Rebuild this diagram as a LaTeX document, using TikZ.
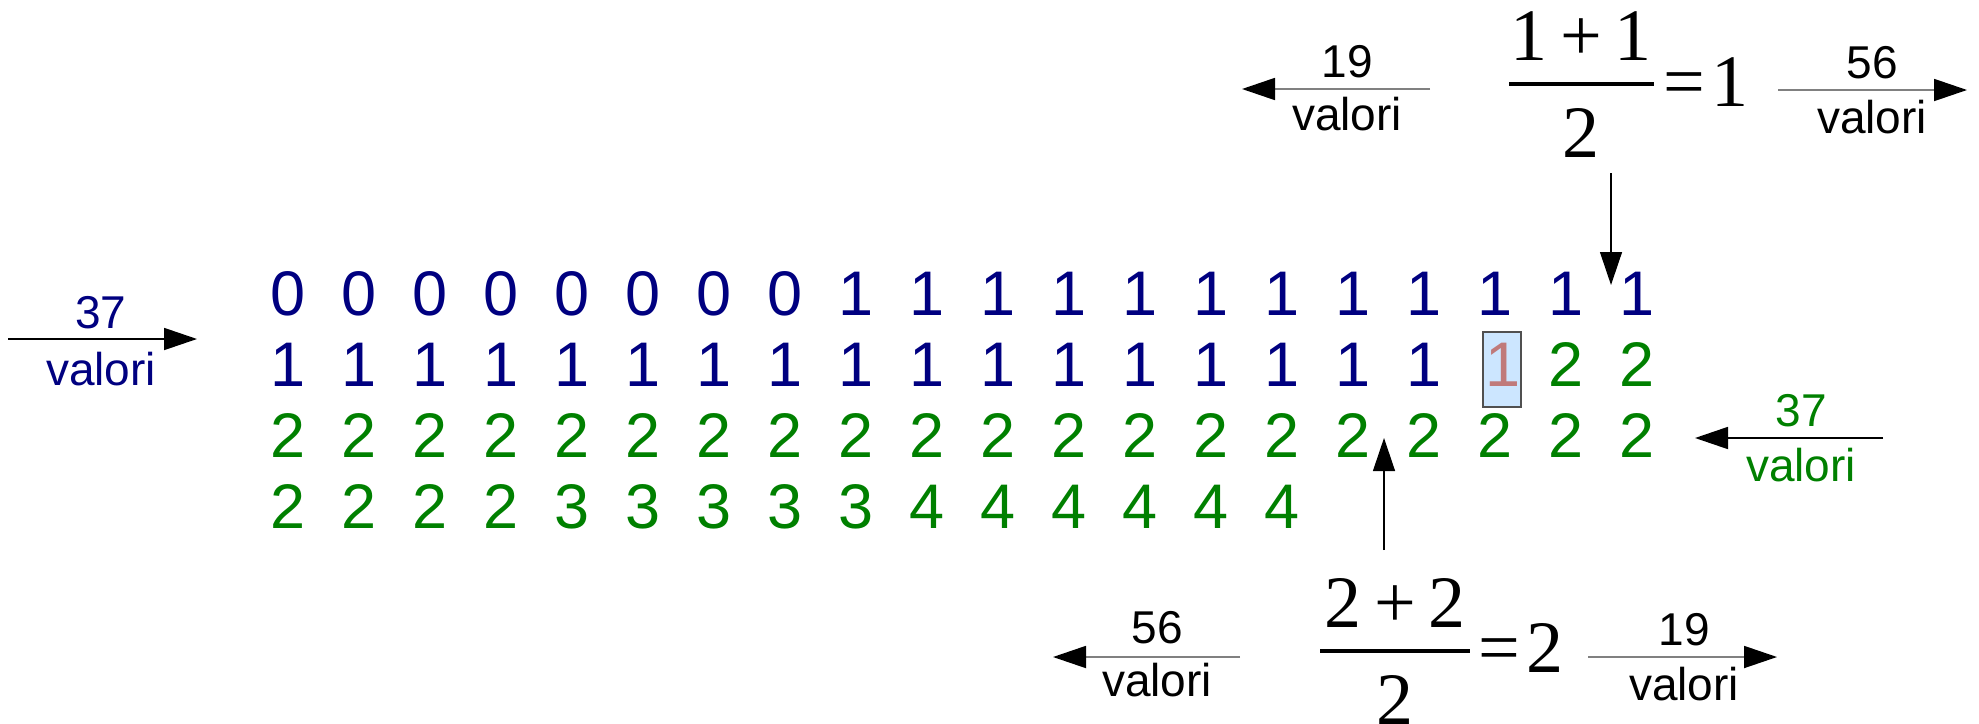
\documentclass[tikz,border=0pt]{standalone}
\usepackage{fontspec}
\setmainfont{Liberation Sans}
\newfontfamily\seriffont{Liberation Serif}
\usetikzlibrary{arrows.meta}
\definecolor{navy}{RGB}{0,0,128}
\definecolor{dgreen}{RGB}{0,128,0}
\definecolor{rosy}{RGB}{192,122,122}
\definecolor{hlfill}{RGB}{204,230,255}
\definecolor{hlborder}{RGB}{80,80,80}
\definecolor{lgray}{RGB}{128,128,128}
\begin{document}
\begin{tikzpicture}[x=0.5pt,y=-0.5pt,
  cell/.style={anchor=base, inner sep=0pt, font=\fontsize{31.5}{31.5}\selectfont},
  lbl/.style={anchor=base, inner sep=0pt, font=\fontsize{23}{23}\selectfont},
  frm/.style={anchor=base, inner sep=0pt, font=\fontsize{37}{37}\seriffont},
  frmeq/.style={frm, anchor=base west},
  fbar/.style={line width=2pt},
  arr/.style={line width=0.9pt, -{Triangle[length=16.5pt,width=11pt,color=black]}},
  garr/.style={arr, draw=lgray},
  varr/.style={line width=0.6pt, -{Triangle[length=16.5pt,width=11pt]}},
  hlbox/.style={draw=hlborder, fill=hlfill, line width=0.6pt, minimum width=19pt, minimum height=37.5pt, inner sep=0pt}
  ]
\useasboundingbox (0,0) rectangle (1979,723);

% highlight box
\node[hlbox] (hl) at (1502,369.5) {};

% row 1
\foreach \v/\c [count=\i] in {0/navy,0/navy,0/navy,0/navy,0/navy,0/navy,0/navy,0/navy,1/navy,1/navy,1/navy,1/navy,1/navy,1/navy,1/navy,1/navy,1/navy,1/navy,1/navy,1/navy}
  \node[cell, text=\c] (ra\i) at ({288+71*(\i-1)},315) {\v};
% row 2
\foreach \v/\c [count=\i] in {1/navy,1/navy,1/navy,1/navy,1/navy,1/navy,1/navy,1/navy,1/navy,1/navy,1/navy,1/navy,1/navy,1/navy,1/navy,1/navy,1/navy}
  \node[cell, text=\c] (rb\i) at ({288+71*(\i-1)},386) {\v};
\node[cell, text=rosy] (rb18) at (1503,386) {1};
\node[cell, text=dgreen] (rb19) at ({288+71*18},386) {2};
\node[cell, text=dgreen] (rb20) at ({288+71*19},386) {2};
% row 3
\foreach \i in {1,...,20}
  \node[cell, text=dgreen] (rc\i) at ({288+71*(\i-1)},457) {2};
% row 4
\foreach \v [count=\i] in {2,2,2,2,3,3,3,3,3,4,4,4,4,4,4}
  \node[cell, text=dgreen] (rd\i) at ({288+71*(\i-1)},528) {\v};

% top formula
\node[frm] (tnum) at (1581,60) {1\hspace{0.17em}+\hspace{0.17em}1};
\node[frm] (tden) at (1581,157) {2};
\coordinate (tbl) at (1509,84);
\coordinate (tbr) at (1654,84);
\draw[fbar] (tbl) -- (tbr);
\node[frmeq] (teq) at (1663,106) {=\hspace{0.08em}1};

% bottom formula
\node[frm] (bnum) at (1395,627) {2\hspace{0.17em}+\hspace{0.17em}2};
\node[frm] (bden) at (1395,724) {2};
\coordinate (bbl) at (1320,651);
\coordinate (bbr) at (1470,651);
\draw[fbar] (bbl) -- (bbr);
\node[frmeq] (beq) at (1478,672) {=\hspace{0.08em}2};

% vertical arrows
\coordinate (dtop) at (1611,173);
\coordinate (dtip) at (1611,285);
\draw[varr] (dtop) -- (dtip);
\coordinate (ubot) at (1384,550);
\coordinate (utip) at (1384,438);
\draw[varr] (ubot) -- (utip);

% top-left: 19 valori
\coordinate (tla) at (1430,89);
\coordinate (tlb) at (1242,89);
\draw[garr] (tla) -- (tlb);
\node[lbl] (tln) at (1347,77) {19};
\node[lbl] (tlv) at (1347,130) {valori};

% top-right: 56 valori
\coordinate (tra) at (1778,90);
\coordinate (trb) at (1967,90);
\draw[garr] (tra) -- (trb);
\node[lbl] (trn) at (1872,78) {56};
\node[lbl] (trv) at (1872,133) {valori};

% bottom-left: 56 valori
\coordinate (bla) at (1240,657);
\coordinate (blb) at (1053,657);
\draw[garr] (bla) -- (blb);
\node[lbl] (bln) at (1157,643) {56};
\node[lbl] (blv) at (1157,696) {valori};

% bottom-right: 19 valori
\coordinate (bra) at (1588,657);
\coordinate (brb) at (1777,657);
\draw[garr] (bra) -- (brb);
\node[lbl] (brn) at (1684,645) {19};
\node[lbl] (brv) at (1684,700) {valori};

% left: 37 valori
\coordinate (la) at (8,339);
\coordinate (lb) at (197,339);
\draw[arr] (la) -- (lb);
\node[lbl, text=navy] (ln) at (101,328) {37};
\node[lbl, text=navy] (lv) at (101,385) {valori};

% right: 37 valori
\coordinate (ra) at (1883,438);
\coordinate (rb) at (1695,438);
\draw[arr] (ra) -- (rb);
\node[lbl, text=dgreen] (rn) at (1801,426) {37};
\node[lbl, text=dgreen] (rv) at (1801,481) {valori};
\end{tikzpicture}
\end{document}
